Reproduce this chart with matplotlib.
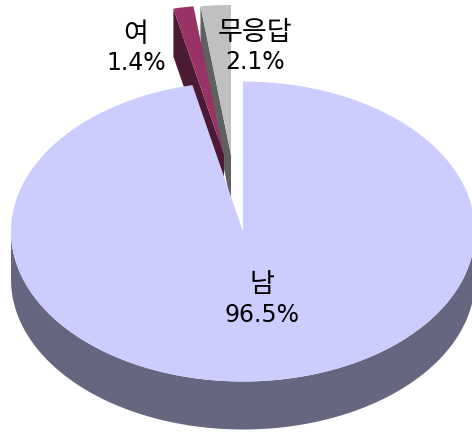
import numpy as np
import matplotlib
matplotlib.use("Agg")
import matplotlib.pyplot as plt
from matplotlib.patches import Polygon

# order goes clockwise from 12 o'clock
categories = ["남", "여", "무응답"]
shares = [96.5, 1.4, 2.1]

top_colors = ["#CCCCFF", "#993366", "#C0C0C0"]
side_colors = ["#666680", "#4D1A33", "#606060"]

plt.rcParams['font.family'] = ['Noto Sans CJK KR', 'DejaVu Sans']

cx, cy = 243, 231.5
rx, ry = 232, 150
depth = 48
# where each slice's tip sits once pulled out
tips = [(cx, cy), (224, 155), (231, 155)]
# label centres, name then percentage
label_pos = [(262, 285, 315), (136, 34, 63), (255, 33, 62)]


def arc(start, end, tip):
    t = np.radians(np.linspace(start, end, 240))
    return np.column_stack([tip[0] + rx * np.sin(t), tip[1] - ry * np.cos(t)])


fig = plt.figure(figsize=(4.72, 4.32), dpi=100)
ax = fig.add_axes([0, 0, 1, 1])
ax.set_xlim(0, 472)
ax.set_ylim(432, 0)
ax.axis("off")

edges = np.cumsum([0] + shares) * 3.6
drop = np.array([0, depth])

# small slices first, the big one covers their lower parts
for i in [2, 1]:
    tip = np.array(tips[i])
    pts = arc(edges[i], edges[i + 1], tip)
    side = np.vstack([pts[0], tip, tip + drop, pts[0] + drop])
    ax.add_patch(Polygon(side, closed=True, fc=side_colors[i], ec="none", clip_on=True))
    top = np.vstack([tip, pts])
    ax.add_patch(Polygon(top, closed=True, fc=top_colors[i], ec="none", clip_on=True))

# keep the pulled out slices under the 5px top margin of the picture
ax.add_patch(Polygon([(0, 0), (472, 0), (472, 5), (0, 5)], closed=True, fc="white", ec="none"))

pts = arc(90, 270, (cx, cy))
ax.add_patch(Polygon(np.vstack([pts, (pts + drop)[::-1]]), closed=True, fc=side_colors[0], ec="none"))
pts = arc(edges[0], edges[1], (cx, cy))
ax.add_patch(Polygon(np.vstack([(cx, cy), pts]), closed=True, fc=top_colors[0], ec="none"))

for name, share, (x, y1, y2) in zip(categories, shares, label_pos):
    ax.text(x, y1, name, ha="center", va="center", fontsize=19.5, color="black")
    ax.text(x, y2, f"{share}%", ha="center", va="center", fontsize=17, color="black", family="DejaVu Sans")

fig.savefig("out.png", dpi=100)
